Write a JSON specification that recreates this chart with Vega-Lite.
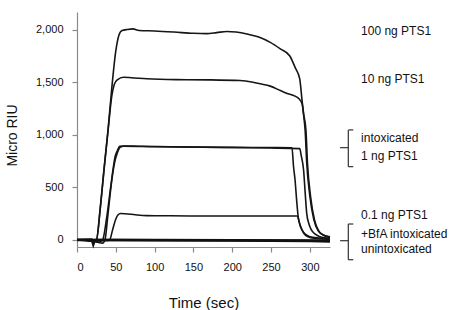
{
  "$schema": "https://vega.github.io/schema/vega-lite/v6.json",
  "width": 253,
  "height": 235,
  "autosize": {"type": "none"},
  "padding": {"left": 77, "top": 12, "right": 120, "bottom": 63},
  "background": "white",
  "config": {
    "view": {"stroke": null},
    "font": "Liberation Sans",
    "axis": {
      "grid": false,
      "domainColor": "#8a8a8a",
      "tickColor": "#8a8a8a",
      "domainWidth": 1.2,
      "tickWidth": 1.2,
      "tickSize": 5,
      "labelColor": "#111",
      "labelFont": "Liberation Sans",
      "labelFontSize": 11,
      "labelPadding": 9,
      "titleFont": "Liberation Sans",
      "titleFontWeight": "normal",
      "titleColor": "#111"
    }
  },
  "datasets": {
    "curves": [
      {"s": "A", "t": 0, "v": 0}, {"s": "A", "t": 12, "v": -3}, {"s": "A", "t": 20, "v": -12}, {"s": "A", "t": 25, "v": 0},
      {"s": "A", "t": 30, "v": 310}, {"s": "A", "t": 35, "v": 690}, {"s": "A", "t": 40, "v": 1050}, {"s": "A", "t": 45, "v": 1460},
      {"s": "A", "t": 50, "v": 1800}, {"s": "A", "t": 54, "v": 1950}, {"s": "A", "t": 58, "v": 1995}, {"s": "A", "t": 65, "v": 2005},
      {"s": "A", "t": 72, "v": 2010}, {"s": "A", "t": 80, "v": 1995}, {"s": "A", "t": 100, "v": 1990}, {"s": "A", "t": 125, "v": 1980},
      {"s": "A", "t": 150, "v": 1968}, {"s": "A", "t": 167, "v": 1965}, {"s": "A", "t": 180, "v": 1975}, {"s": "A", "t": 193, "v": 1986},
      {"s": "A", "t": 205, "v": 1980}, {"s": "A", "t": 219, "v": 1962}, {"s": "A", "t": 235, "v": 1930}, {"s": "A", "t": 249, "v": 1882},
      {"s": "A", "t": 262, "v": 1820}, {"s": "A", "t": 274, "v": 1755}, {"s": "A", "t": 281, "v": 1644}, {"s": "A", "t": 287, "v": 1534},
      {"s": "A", "t": 290, "v": 1328}, {"s": "A", "t": 292, "v": 1202}, {"s": "A", "t": 295, "v": 1044}, {"s": "A", "t": 297, "v": 728},
      {"s": "A", "t": 301, "v": 411}, {"s": "A", "t": 306, "v": 190}, {"s": "A", "t": 312, "v": 79}, {"s": "A", "t": 319, "v": 40},
      {"s": "A", "t": 326, "v": 25},

      {"s": "B", "t": 0, "v": 0}, {"s": "B", "t": 12, "v": -3}, {"s": "B", "t": 20, "v": -10}, {"s": "B", "t": 25, "v": 0},
      {"s": "B", "t": 30, "v": 300}, {"s": "B", "t": 35, "v": 680}, {"s": "B", "t": 40, "v": 1040}, {"s": "B", "t": 45, "v": 1380},
      {"s": "B", "t": 48, "v": 1480}, {"s": "B", "t": 52, "v": 1525}, {"s": "B", "t": 60, "v": 1549}, {"s": "B", "t": 70, "v": 1545},
      {"s": "B", "t": 90, "v": 1535}, {"s": "B", "t": 128, "v": 1527}, {"s": "B", "t": 170, "v": 1525}, {"s": "B", "t": 210, "v": 1518},
      {"s": "B", "t": 225, "v": 1505}, {"s": "B", "t": 236, "v": 1487}, {"s": "B", "t": 249, "v": 1465}, {"s": "B", "t": 262, "v": 1423},
      {"s": "B", "t": 270, "v": 1398}, {"s": "B", "t": 281, "v": 1370}, {"s": "B", "t": 286, "v": 1345}, {"s": "B", "t": 290, "v": 1297},
      {"s": "B", "t": 292, "v": 1190}, {"s": "B", "t": 294, "v": 1040}, {"s": "B", "t": 296, "v": 735}, {"s": "B", "t": 300, "v": 420},
      {"s": "B", "t": 305, "v": 200}, {"s": "B", "t": 311, "v": 85}, {"s": "B", "t": 318, "v": 45}, {"s": "B", "t": 326, "v": 30},

      {"s": "C1", "t": 0, "v": 0}, {"s": "C1", "t": 20, "v": -5}, {"s": "C1", "t": 28, "v": -20}, {"s": "C1", "t": 33, "v": 0},
      {"s": "C1", "t": 38, "v": 200}, {"s": "C1", "t": 43, "v": 480}, {"s": "C1", "t": 47, "v": 700}, {"s": "C1", "t": 49, "v": 790},
      {"s": "C1", "t": 52, "v": 850}, {"s": "C1", "t": 55, "v": 892}, {"s": "C1", "t": 60, "v": 895}, {"s": "C1", "t": 80, "v": 892},
      {"s": "C1", "t": 120, "v": 888}, {"s": "C1", "t": 200, "v": 882}, {"s": "C1", "t": 250, "v": 880}, {"s": "C1", "t": 277, "v": 878},
      {"s": "C1", "t": 279, "v": 700}, {"s": "C1", "t": 281, "v": 569}, {"s": "C1", "t": 283, "v": 380}, {"s": "C1", "t": 285, "v": 221},
      {"s": "C1", "t": 287, "v": 150}, {"s": "C1", "t": 290, "v": 95}, {"s": "C1", "t": 295, "v": 50}, {"s": "C1", "t": 300, "v": 31},
      {"s": "C1", "t": 313, "v": 19}, {"s": "C1", "t": 326, "v": 10},

      {"s": "C2", "t": 0, "v": 0}, {"s": "C2", "t": 25, "v": -20}, {"s": "C2", "t": 33, "v": -30}, {"s": "C2", "t": 36, "v": 0},
      {"s": "C2", "t": 40, "v": 250}, {"s": "C2", "t": 44, "v": 520}, {"s": "C2", "t": 48, "v": 720}, {"s": "C2", "t": 52, "v": 830},
      {"s": "C2", "t": 56, "v": 885}, {"s": "C2", "t": 60, "v": 893}, {"s": "C2", "t": 100, "v": 888}, {"s": "C2", "t": 200, "v": 880},
      {"s": "C2", "t": 250, "v": 876}, {"s": "C2", "t": 287, "v": 870}, {"s": "C2", "t": 289, "v": 800}, {"s": "C2", "t": 292, "v": 664},
      {"s": "C2", "t": 294, "v": 450}, {"s": "C2", "t": 296, "v": 253}, {"s": "C2", "t": 299, "v": 150}, {"s": "C2", "t": 302, "v": 95},
      {"s": "C2", "t": 307, "v": 55}, {"s": "C2", "t": 313, "v": 31}, {"s": "C2", "t": 326, "v": 15},

      {"s": "D", "t": 0, "v": 0}, {"s": "D", "t": 30, "v": -5}, {"s": "D", "t": 38, "v": -5}, {"s": "D", "t": 42, "v": 0},
      {"s": "D", "t": 46, "v": 100}, {"s": "D", "t": 50, "v": 200}, {"s": "D", "t": 53, "v": 240}, {"s": "D", "t": 56, "v": 252},
      {"s": "D", "t": 62, "v": 250}, {"s": "D", "t": 75, "v": 240}, {"s": "D", "t": 90, "v": 232}, {"s": "D", "t": 120, "v": 230},
      {"s": "D", "t": 200, "v": 228}, {"s": "D", "t": 250, "v": 228}, {"s": "D", "t": 284, "v": 228}, {"s": "D", "t": 286, "v": 180},
      {"s": "D", "t": 288, "v": 130}, {"s": "D", "t": 292, "v": 66}, {"s": "D", "t": 298, "v": 30}, {"s": "D", "t": 305, "v": 16},
      {"s": "D", "t": 326, "v": 8}
    ],
    "baselines": [
      {"s": "E", "t": 0, "v": 0}, {"s": "E", "t": 50, "v": 0}, {"s": "E", "t": 100, "v": -3}, {"s": "E", "t": 200, "v": -5},
      {"s": "E", "t": 300, "v": -10}, {"s": "E", "t": 326, "v": -15},
      {"s": "F", "t": 0, "v": 3}, {"s": "F", "t": 19, "v": 5}, {"s": "F", "t": 21, "v": -45}, {"s": "F", "t": 23, "v": 0},
      {"s": "F", "t": 100, "v": 0}, {"s": "F", "t": 200, "v": -2}, {"s": "F", "t": 326, "v": -5}
    ],
    "brackets": [
      {"x1": 349.6, "x2": 349.6, "y1": 1048, "y2": 698},
      {"x1": 349.6, "x2": 356, "y1": 1048, "y2": 1048},
      {"x1": 349.6, "x2": 356, "y1": 698, "y2": 698},
      {"x1": 339, "x2": 349.6, "y1": 879, "y2": 879},
      {"x1": 349.6, "x2": 349.6, "y1": 152, "y2": -188},
      {"x1": 349.6, "x2": 356, "y1": 152, "y2": 152},
      {"x1": 349.6, "x2": 356, "y1": -188, "y2": -188},
      {"x1": 339, "x2": 349.6, "y1": -7, "y2": -7}
    ],
    "labels": [
      {"t": 366, "v": 1993, "label": "100 ng PTS1"},
      {"t": 366, "v": 1530, "label": "10 ng PTS1"},
      {"t": 366, "v": 969, "label": "intoxicated"},
      {"t": 366, "v": 800, "label": "1 ng PTS1"},
      {"t": 366, "v": 238, "label": "0.1 ng PTS1"},
      {"t": 366, "v": 54, "label": "+BfA intoxicated"},
      {"t": 366, "v": -89, "label": "unintoxicated"}
    ]
  },
  "layer": [
    {
      "data": {"name": "curves"},
      "mark": {"type": "line", "color": "#151515", "strokeWidth": 1.6, "clip": false, "interpolate": "monotone"},
      "encoding": {
        "x": {
          "field": "t", "type": "quantitative",
          "scale": {"domain": [0, 326], "nice": false, "zero": false},
          "axis": {"values": [0, 50, 100, 150, 200, 250, 300], "title": "Time (sec)", "titleFontSize": 15, "titleX": 126.5, "titleY": 55, "titleBaseline": "middle", "titleAnchor": null, "titleAlign": "center"}
        },
        "y": {
          "field": "v", "type": "quantitative",
          "scale": {"domain": [-67, 2171], "nice": false, "zero": false},
          "axis": {"values": [0, 500, 1000, 1500, 2000], "format": ",d", "title": "Micro RIU", "titleFontSize": 14, "titleX": -65, "titleY": 123, "titleAngle": -90, "titleBaseline": "middle", "titleAlign": "center"}
        },
        "detail": {"field": "s", "type": "nominal"},
        "order": {"field": "t", "type": "quantitative"}
      }
    },
    {
      "data": {"name": "baselines"},
      "mark": {"type": "line", "color": "#111", "strokeWidth": 2.4, "clip": false},
      "encoding": {
        "x": {"field": "t", "type": "quantitative"},
        "y": {"field": "v", "type": "quantitative"},
        "detail": {"field": "s", "type": "nominal"},
        "order": {"field": "t", "type": "quantitative"}
      }
    },
    {
      "data": {"name": "brackets"},
      "mark": {"type": "rule", "color": "#333", "strokeWidth": 1.2, "clip": false},
      "encoding": {
        "x": {"field": "x1", "type": "quantitative"},
        "x2": {"field": "x2"},
        "y": {"field": "y1", "type": "quantitative"},
        "y2": {"field": "y2"}
      }
    },
    {
      "data": {"name": "labels"},
      "mark": {"type": "text", "align": "left", "baseline": "middle", "fontSize": 12, "font": "Liberation Sans", "color": "#111", "clip": false},
      "encoding": {
        "x": {"field": "t", "type": "quantitative"},
        "y": {"field": "v", "type": "quantitative"},
        "text": {"field": "label"}
      }
    }
  ]
}
